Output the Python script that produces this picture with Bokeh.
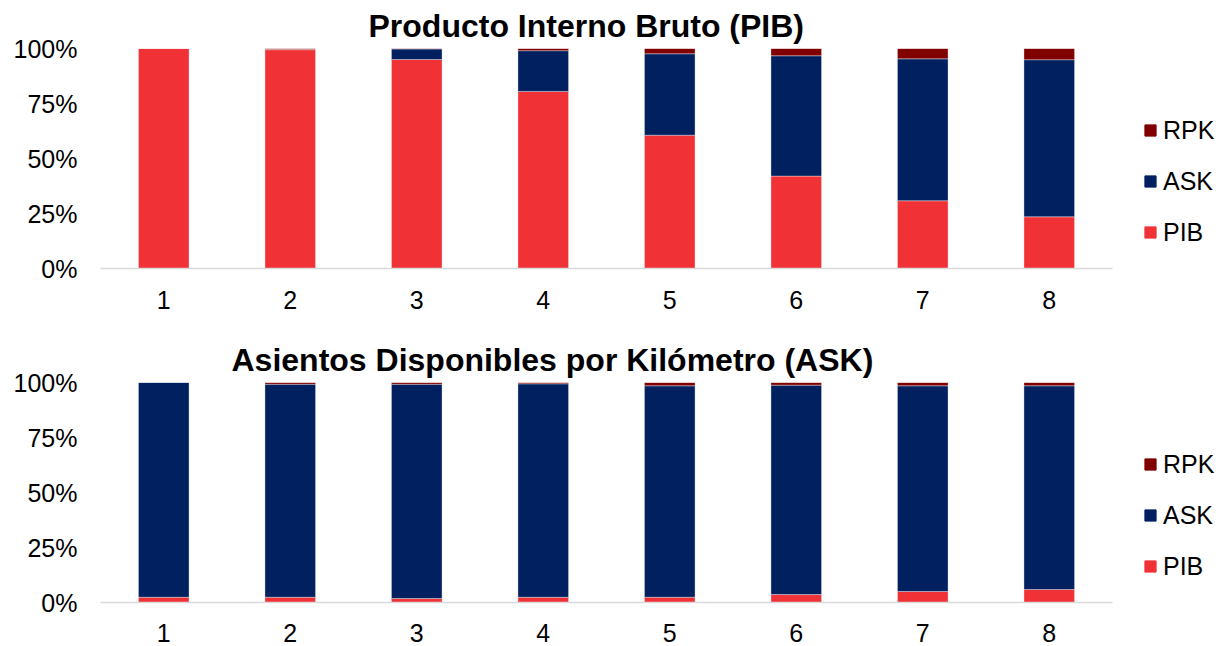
from bokeh.plotting import figure
from bokeh.models import (FactorRange, Range1d, FixedTicker, NumeralTickFormatter,
                          Legend, LegendItem, ColumnDataSource)
from bokeh.layouts import column, row
from bokeh.embed import file_html
from bokeh.resources import INLINE

categories = ["1", "2", "3", "4", "5", "6", "7", "8"]
series = ["PIB", "ASK", "RPK"]
colors = ["#F03237", "#002060", "#800000"]
y_ticks = [0, 0.25, 0.5, 0.75, 1.0]

title_top = "Producto Interno Bruto (PIB)"
pib_top = [100.0, 99.5, 95.0, 80.5, 60.6, 42.0, 30.8, 23.5]
rpk_top = [0.0, 0.5, 0.2, 1.0, 2.4, 3.3, 4.7, 5.1]
ask_top = [100 - a - b for a, b in zip(pib_top, rpk_top)]

title_bot = "Asientos Disponibles por Kilómetro (ASK)"
pib_bot = [2.4, 2.4, 1.8, 2.4, 2.4, 3.6, 5.0, 5.9]
rpk_bot = [0.0, 0.8, 0.8, 0.6, 1.5, 1.2, 1.5, 1.5]
ask_bot = [100 - a - b for a, b in zip(pib_bot, rpk_bot)]

FONT = "Liberation Sans"
H = 323


def make(title, pib, ask, rpk, top_border, bottom_border, title_offset, x_standoff):
    src = ColumnDataSource(dict(
        x=categories,
        PIB=[v / 100 for v in pib],
        ASK=[v / 100 for v in ask],
        RPK=[v / 100 for v in rpk],
    ))
    p = figure(x_range=FactorRange(*categories, range_padding=0),
               y_range=Range1d(0, 1), width=1120, height=H,
               output_backend="svg", toolbar_location=None,
               min_border_left=100, min_border_right=8,
               min_border_top=top_border, min_border_bottom=bottom_border,
               title=title)
    p.vbar_stack(series, x="x", width=0.4, source=src,
                 fill_color=colors, line_color="white",
                 line_alpha=0.35, line_width=1)
    p.title.align = "left"
    p.title.offset = title_offset
    p.title.text_font = FONT
    p.title.text_font_size = "32px"
    p.title.text_font_style = "bold"
    p.title.text_color = "black"

    p.xgrid.visible = False
    p.ygrid.visible = False
    p.outline_line_color = None

    ya = p.yaxis[0]
    ya.ticker = FixedTicker(ticks=y_ticks)
    ya.formatter = NumeralTickFormatter(format="0%")
    ya.axis_line_color = None
    ya.major_tick_line_color = None
    ya.minor_tick_line_color = None
    ya.major_label_text_font = FONT
    ya.major_label_text_font_size = "25px"
    ya.major_label_text_color = "black"
    ya.major_label_standoff = 17

    xa = p.xaxis[0]
    xa.axis_line_color = "#d9d9d9"
    xa.axis_line_width = 1.5
    xa.major_tick_line_color = None
    xa.minor_tick_line_color = None
    xa.major_label_text_font = FONT
    xa.major_label_text_font_size = "25px"
    xa.major_label_text_color = "black"
    xa.major_label_standoff = x_standoff

    # legend lives in its own small figure to the right; its stacked bars
    # are hidden so only the legend entries show
    lg = figure(x_range=FactorRange(*categories, range_padding=0),
                y_range=Range1d(0, 1), width=1227 - 1120,
                height=H, output_backend="svg", toolbar_location=None,
                x_axis_type=None, y_axis_type=None,
                min_border_left=0, min_border_right=0,
                min_border_top=0, min_border_bottom=0)
    lg.xgrid.visible = False
    lg.ygrid.visible = False
    lg.outline_line_color = None
    rs = lg.vbar_stack(series, x="x", width=0.4, source=src,
                       fill_color=colors, line_color=colors)
    for r in rs:
        r.visible = False
    items = [LegendItem(label=s, renderers=[r]) for s, r in zip(series, rs)][::-1]
    legend = Legend(items=items, location=(23, 21), margin=0, padding=0,
                    border_line_color=None, background_fill_alpha=0,
                    inactive_fill_alpha=0,
                    glyph_width=14, glyph_height=14, label_standoff=6,
                    label_text_font=FONT, label_text_font_size="25px",
                    label_text_color="black",
                    label_height=30, spacing=21)
    lg.add_layout(legend, "center")
    return row(p, lg, spacing=0)


r1 = make(title_top, pib_top, ask_top, rpk_top, 47, 55, 268, 16)
r2 = make(title_bot, pib_bot, ask_bot, rpk_bot, 59, 44, 131, 15)
layout = column(r1, r2, spacing=0)

open("out.html", "w").write(file_html(layout, INLINE))
